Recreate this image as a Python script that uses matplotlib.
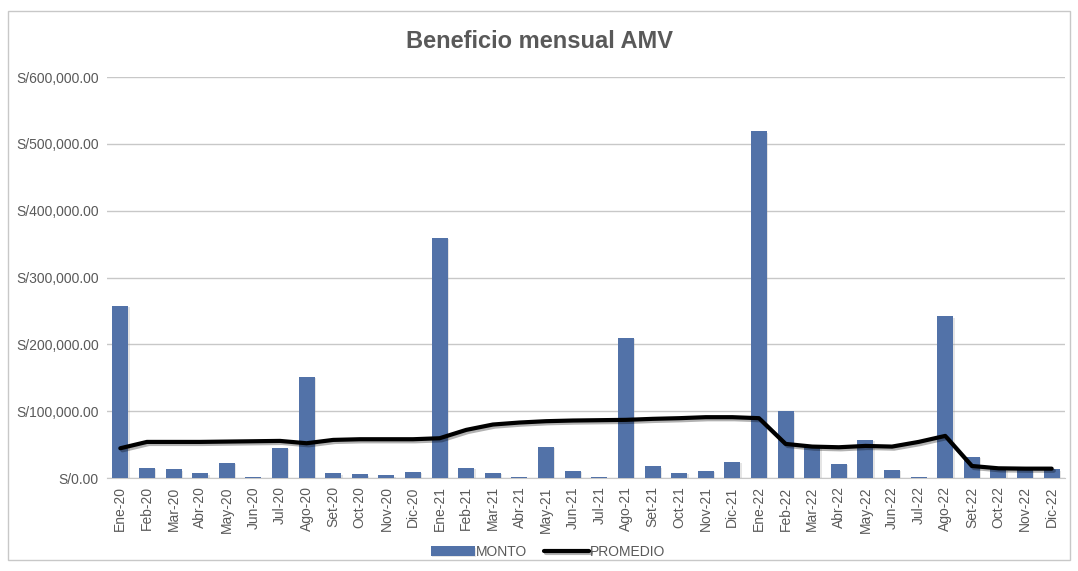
import numpy as np
import matplotlib.pyplot as plt
import matplotlib.patheffects as pe
from matplotlib.ticker import FuncFormatter
from matplotlib.patches import Rectangle

# Datos
meses = ['Ene-20', 'Feb-20', 'Mar-20', 'Abr-20', 'May-20', 'Jun-20', 'Jul-20', 'Ago-20', 'Set-20', 'Oct-20', 'Nov-20', 'Dic-20',
         'Ene-21', 'Feb-21', 'Mar-21', 'Abr-21', 'May-21', 'Jun-21', 'Jul-21', 'Ago-21', 'Set-21', 'Oct-21', 'Nov-21', 'Dic-21',
         'Ene-22', 'Feb-22', 'Mar-22', 'Abr-22', 'May-22', 'Jun-22', 'Jul-22', 'Ago-22', 'Set-22', 'Oct-22', 'Nov-22', 'Dic-22']
monto = [258000, 15000, 13000, 7000, 23000, 2000, 45000, 151000, 7000, 5500, 4000, 9500,
         359000, 15000, 8000, 2000, 47000, 11000, 1000, 209500, 17500, 8000, 11000, 24000,
         519000, 100000, 50000, 21000, 57000, 12000, 2000, 242000, 32000, 13000, 12000, 13000]
promedio = [44500, 54000, 54000, 54000, 54500, 55000, 55500, 52000, 57000, 58000, 58000, 58000,
            59500, 72000, 80000, 83000, 85000, 86000, 86500, 87000, 88500, 89500, 91000, 91000,
            89500, 51000, 47000, 46000, 48000, 47000, 54000, 63000, 18000, 14500, 14000, 14000]

plt.rcParams['font.family'] = ['Liberation Sans Narrow', 'Liberation Sans', 'DejaVu Sans']

fig = plt.figure(figsize=(10.78, 5.71), dpi=100)
ax = fig.add_axes([107 / 1078, 1 - 478 / 571, 958 / 1078, 401 / 571])

x = np.arange(len(meses))
shadow = [pe.SimplePatchShadow(offset=(1, -1), shadow_rgbFace='#999999', alpha=0.25), pe.Normal()]
bars = ax.bar(x, monto, width=0.6, color='#5272a8', zorder=2, label='MONTO')
for b in bars:
    b.set_path_effects(shadow)
line, = ax.plot(x, promedio, color='black', lw=3, zorder=3, label='PROMEDIO',
                solid_capstyle='round', solid_joinstyle='round',
                path_effects=[pe.SimpleLineShadow(offset=(1.5, -1.5), alpha=0.3), pe.Normal()])

ax.set_xlim(-0.5, len(meses) - 0.5)
ax.set_ylim(0, 600000)
ax.set_yticks(np.arange(0, 600001, 100000))
ax.yaxis.set_major_formatter(FuncFormatter(lambda v, p: f'S/{v:,.2f}'))
ax.set_xticks(x)
ax.set_xticklabels(meses, rotation=90)
ax.tick_params(axis='both', length=0, colors='#595959', labelsize=10, pad=6)
ax.grid(axis='y', color='#c8c8c8', lw=1, zorder=0)
for s in ['top', 'right', 'left']:
    ax.spines[s].set_visible(False)
ax.spines['bottom'].set_color('#c8c8c8')
ax.spines['bottom'].set_zorder(1)

fig.text(0.5, 1 - 42 / 571, 'Beneficio mensual AMV', ha='center', va='center',
         fontsize=17, fontweight='bold', color='#595959')

leg = fig.legend(handles=[bars, line], loc='center', bbox_to_anchor=(548 / 1078, 1 - 552 / 571),
                 ncol=2, frameon=False, fontsize=10, handlelength=3.2, handletextpad=0.1,
                 columnspacing=1.2, labelcolor='#595959')

# borde del gráfico
fig.patches.append(Rectangle((8 / 1078, 11 / 571), 1062 / 1078, 549 / 571, transform=fig.transFigure,
                             fill=False, edgecolor='#c8c8c8', lw=1))

fig.savefig('out.png', dpi=100)
